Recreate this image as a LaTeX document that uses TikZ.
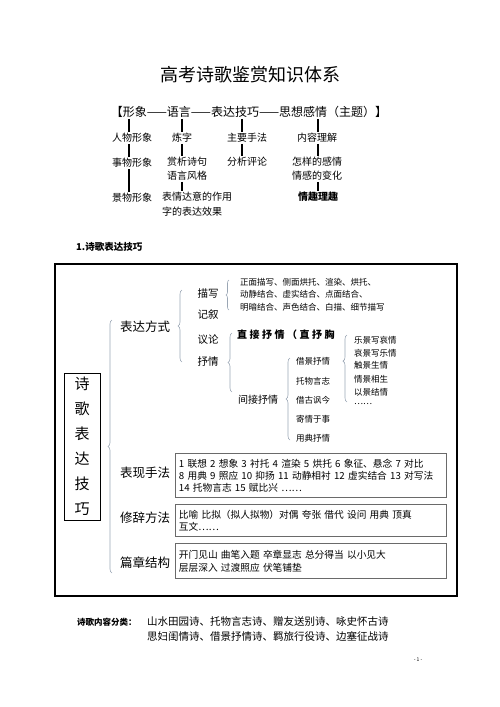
\documentclass[tikz,border=0pt]{standalone}
\usepackage{fontspec}
\setmainfont{Noto Sans CJK SC}
\usetikzlibrary{decorations.pathreplacing}
\definecolor{brcgray}{HTML}{9AA6B4}
\definecolor{boxgray}{HTML}{6A6A6A}
\tikzset{
  bar/.style={line width=2pt},
  brc/.style={decorate,decoration={brace,amplitude=4pt},draw=brcgray,line width=.6pt},
  box/.style={draw=boxgray,line width=.9pt,anchor=north west,text width=264pt,inner xsep=3.5pt,inner ysep=3pt,align=left,font=\fontsize{9.7}{12}\selectfont},
  sm/.style={font=\fontsize{10}{14}\selectfont,inner sep=1pt,align=center},
  tiny/.style={font=\fontsize{8.5}{10}\selectfont,inner sep=0pt,anchor=west},
  lbl/.style={font=\fontsize{12.5}{13}\selectfont,inner sep=1pt},
}

\begin{document}
\begin{tikzpicture}[x=1pt,y=-1pt]
\useasboundingbox (0,0) rectangle (500,707);
\node[font=\fontsize{18}{18}\selectfont] (ttl) at (250,75) {高考诗歌鉴赏知识体系};
\node[font=\fontsize{12}{12}\selectfont,inner sep=1pt] (hdr) at (249,112) {【形象——语言——表达技巧——思想感情（主题）】};
\foreach \n/\x in {c1/129,c2/182,c3/242,c4/318} \coordinate (\n) at (\x,0);
\node[sm] (rw1) at (132,138) {人物形象};
\node[sm] (rw2) at (132,163) {事物形象};
\node[sm] (rw3) at (132,198) {景物形象};
\node[sm] (yy1) at (182,138) {炼字};
\node[sm] (yy2) at (187,169) {赏析诗句\\语言风格};
\node[sm,align=left,anchor=west,font=\fontsize{10}{15}\selectfont] (yy3) at (161,204.5) {表情达意的作用\\字的表达效果};
\node[sm] (jq1) at (247,138) {主要手法};
\node[sm] (jq2) at (247,162) {分析评论};
\node[sm] (gq1) at (317,138) {内容理解};
\node[sm] (gq2) at (317,169) {怎样的感情\\情感的变化};
\node[sm,font=\bfseries\fontsize{10}{14}\selectfont] (gq3) at (318,197) {情趣理趣};
\foreach \a/\b/\c in {hdr/rw1/c1,rw1/rw2/c1,rw2/rw3/c1,hdr/yy1/c2,yy1/yy2/c2,yy2/yy3/c2,hdr/jq1/c3,jq1/jq2/c3,hdr/gq1/c4,gq1/gq2/c4,gq2/gq3/c4}
  \draw[bar] (\a.south -| \c) -- (\b.north -| \c);

\node[font=\bfseries\fontsize{9.5}{10}\selectfont,anchor=west,inner sep=0pt] (sec) at (76,247) {1.诗歌表达技巧};
\draw[line width=1.3pt] (55,264) rectangle (457,596);
\node[draw,line width=.8pt,minimum width=36pt,minimum height=147pt,align=center,font=\fontsize{15}{25}\selectfont] (vbox) at (82,446.5) {诗\\歌\\表\\达\\技\\巧};
\draw[brc] (112,573) -- (112,320);
\node[lbl] (fs1) at (145,327) {表达方式};
\node[lbl] (fs2) at (145,473) {表现手法};
\node[lbl] (fs3) at (145,518) {修辞方法};
\node[lbl] (fs4) at (145,563) {篇章结构};

\draw[brc] (182,362) -- (182,290);
\foreach \n/\y/\t in {ms1/293/描写,ms2/315/记叙,ms3/340/议论,ms4/362/抒情}
  \node[font=\fontsize{10.5}{11}\selectfont,inner sep=1pt] (\n) at (208,\y) {\t};
\draw[brc,decoration={amplitude=3pt}] (229,310) -- (229,280);
\node[tiny] (mx1) at (240,282) {正面描写、侧面烘托、渲染、烘托、};
\node[tiny] (mx2) at (240,294) {动静结合、虚实结合、点面结合、};
\node[tiny] (mx3) at (240,307) {明暗结合、声色结合、白描、细节描写};

\draw[brc] (232,392) -- (232,333);
\node[anchor=west,inner sep=0pt,font=\bfseries\fontsize{10}{11}\selectfont\addfontfeatures{LetterSpace=25}] (zj) at (237,335) {直接抒情（直抒胸};
\node[anchor=west,inner sep=0pt,font=\fontsize{10}{11}\selectfont] (jj) at (238,400) {间接抒情};
\draw[brc] (290,440) -- (290,358);
\foreach \n/\y/\t in {jj1/361/借景抒情,jj2/381/托物言志,jj3/400/借古讽今,jj4/419/寄情于事,jj5/438/用典抒情}
  \node[tiny] (\n) at (296,\y) {\t};
\draw[brc,decoration={aspect=.61}] (347,402) -- (347,335);
\foreach \n/\y/\t in {jx1/340/乐景写哀情,jx2/353/哀景写乐情,jx3/365/触景生情,jx4/379/情景相生,jx5/392/以景结情,jx6/404/……}
  \node[tiny] (\n) at (354,\y) {\t};

\node[box,minimum height=44pt] (bx1) at (175,453) {1 联想 2 想象 3 衬托 4 渲染 5 烘托 6 象征、悬念 7 对比\\8 用典 9 照应 10 抑扬 11 动静相衬 12 虚实结合 13 对写法\\14 托物言志 15 赋比兴 ……};
\node[box,minimum height=32pt] (bx2) at (175,504) {比喻 比拟（拟人拟物）对偶 夸张 借代 设问 用典 顶真\\互文……};
\node[box,minimum height=35pt,font=\fontsize{9.7}{13}\selectfont] (bx3) at (175,543) {开门见山 曲笔入题 卒章显志 总分得当 以小见大\\层层深入 过渡照应 伏笔铺垫};

\node[anchor=west,inner sep=0pt,font=\bfseries\fontsize{8.5}{9}\selectfont] (nr) at (77,622) {诗歌内容分类：};
\node[anchor=west,inner sep=0pt,font=\fontsize{10.5}{11}\selectfont] (nr1) at (147,622) {山水田园诗、托物言志诗、赠友送别诗、咏史怀古诗};
\node[anchor=west,inner sep=0pt,font=\fontsize{10.5}{11}\selectfont] (nr2) at (147,636) {思妇闺情诗、借景抒情诗、羁旅行役诗、边塞征战诗};
\node[font=\fontsize{5}{6}\selectfont,inner sep=0pt] (pg) at (418,660) {- 1 -};
\end{tikzpicture}
\end{document}
